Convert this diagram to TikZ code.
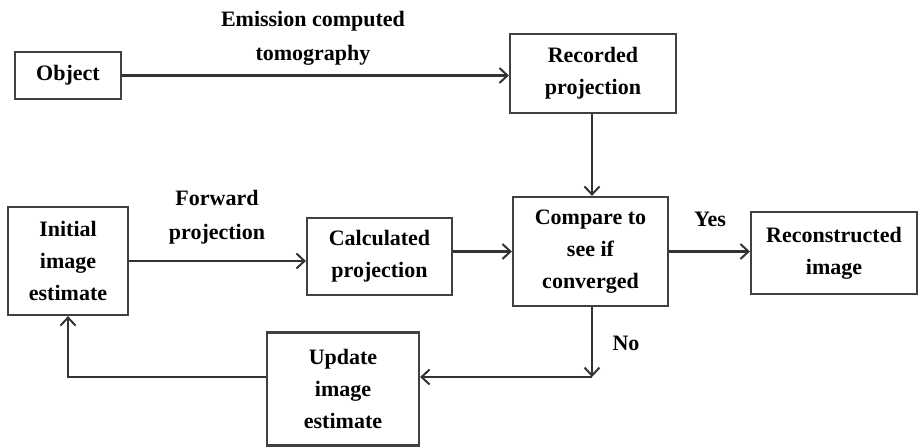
\documentclass[tikz,border=0pt]{standalone}
\usepackage{fontspec}
\setmainfont{Liberation Serif}
\usetikzlibrary{arrows.meta}
\begin{document}
\begin{tikzpicture}[x=1pt,y=-1pt,
  box/.style={draw=black!75,line width=2.2pt,align=center,inner sep=0pt,
    font=\fontsize{22}{32}\selectfont\bfseries},
  lbl/.style={align=center,inner sep=0pt,font=\fontsize{22}{34}\selectfont\bfseries},
  arr/.style={draw=black!80,line width=2.2pt,-{Straight Barb[length=8pt,width=15pt,line width=2pt]}},
  ln/.style={draw=black!80,line width=2.2pt}]
\useasboundingbox (0,0) rectangle (918,447);
\node[box,minimum width=106pt,minimum height=47pt] (obj) at (68,75.5) {Object};
\node[box,minimum width=166pt,minimum height=79pt] (rec) at (593,73.5) {Recorded\\projection};
\node[box,minimum width=155pt,minimum height=109pt] (cmp) at (590.5,251.5) {Compare to\\see if\\converged};
\node[box,minimum width=166pt,minimum height=82pt] (out) at (834,253) {Reconstructed\\image};
\node[box,minimum width=120pt,minimum height=108pt] (init) at (68,261) {Initial\\image\\estimate};
\node[box,minimum width=145pt,minimum height=77pt] (calc) at (379.5,256.5) {Calculated\\projection};
\node[box,minimum width=152pt,minimum height=113pt] (upd) at (343,389) {Update\\image\\estimate};
\coordinate (c1) at (592,377);
\node[lbl] (l1) at (313,38) {Emission computed\\tomography};
\node[lbl] (l2) at (217,217) {Forward\\projection};
\node[lbl] (l3) at (710,219) {Yes};
\node[lbl] (l4) at (626,343) {No};
\draw[arr] (obj.east) -- (obj.east -| rec.west);
\draw[arr] (rec.south -| c1) -- (cmp.north -| c1);
\draw[arr] (init.east) -- (init.east -| calc.west);
\draw[arr] (cmp.west -| calc.east) -- (cmp.west);
\draw[arr] (cmp.east) -- (cmp.east -| out.west);
\draw[arr] (cmp.south -| c1) -- (c1);
\draw[arr] (c1) -- (c1 -| upd.east);
\draw[arr] (c1 -| upd.west) -- (c1 -| init.south) -- (init.south);
\end{tikzpicture}
\end{document}
